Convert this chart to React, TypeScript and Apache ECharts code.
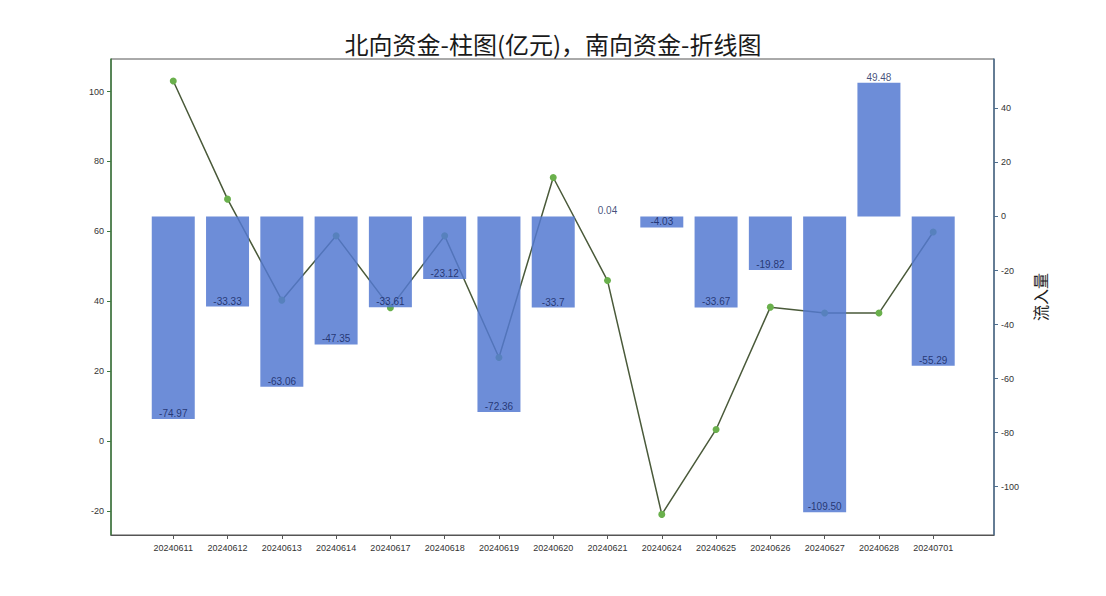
import { useEffect, useRef } from "react";
import * as echarts from "echarts";

const dates = [
  "20240611", "20240612", "20240613", "20240614", "20240617",
  "20240618", "20240619", "20240620", "20240621", "20240624",
  "20240625", "20240626", "20240627", "20240628", "20240701",
];

// 北向资金 (bars, right axis)
const northFlow = [
  -74.97, -33.33, -63.06, -47.35, -33.61, -23.12, -72.36, -33.7,
  0.04, -4.03, -33.67, -19.82, -109.5, 49.48, -55.29,
];
const northLabels = [
  "-74.97", "-33.33", "-63.06", "-47.35", "-33.61", "-23.12", "-72.36", "-33.7",
  "0.04", "-4.03", "-33.67", "-19.82", "-109.50", "49.48", "-55.29",
];

// 南向资金 (line, left axis)
const southFlow = [
  103.0, 69.2, 40.3, 58.7, 38.1, 58.7, 23.9, 75.4,
  45.9, -21.0, 3.3, 38.3, 36.6, 36.6, 59.8,
];

const leftTicks = [-20, 0, 20, 40, 60, 80, 100];
const rightTicks = [-100, -80, -60, -40, -20, 0, 20, 40];

export default function App() {
  const containerRef = useRef<HTMLDivElement>(null);

  useEffect(() => {
    document.body.style.margin = "0";
    if (!containerRef.current) return;
    const chart = echarts.init(containerRef.current, undefined, { renderer: "svg" });
    const idx = dates.map((_, i) => i);
    const font = "'Liberation Sans', 'DejaVu Sans', sans-serif";

    chart.setOption({
      animation: false,
      backgroundColor: "#ffffff",
      textStyle: { fontFamily: font },
      title: {
        text: "北向资金-柱图(亿元)，南向资金-折线图",
        left: "center",
        top: 26,
        textStyle: {
          fontFamily: "'Noto Sans CJK SC', sans-serif",
          fontSize: 24,
          fontWeight: "normal",
          color: "#1a1a1a",
        },
      },
      grid: {
        left: 111,
        right: 112,
        top: 59,
        bottom: 61,
        show: true,
        borderColor: "#555555",
        borderWidth: 1,
      },
      xAxis: {
        type: "value",
        min: -1.147,
        max: 15.12,
        splitLine: { show: false },
        axisLine: { show: true, onZero: false, lineStyle: { color: "#555555" } },
        axisTick: { show: true, length: 4, customValues: idx, lineStyle: { color: "#555555" } },
        axisLabel: {
          customValues: idx,
          formatter: (v: number) => dates[Math.round(v)] ?? "",
          fontSize: 9,
          color: "#333333",
          margin: 8,
        },
      },
      yAxis: [
        {
          type: "value",
          min: -26.9,
          max: 109.3,
          splitLine: { show: false },
          axisLine: { show: true, onZero: false, lineStyle: { color: "#3d7a3d", width: 1.5 } },
          axisTick: { show: true, length: 4, customValues: leftTicks, lineStyle: { color: "#3d7a3d" } },
          axisLabel: { customValues: leftTicks, fontSize: 9, color: "#333333", margin: 7 },
        },
        {
          type: "value",
          position: "right",
          min: -117.9,
          max: 58.3,
          name: "流入量",
          nameLocation: "middle",
          nameRotate: 90,
          nameGap: 38,
          nameTextStyle: {
            fontFamily: "'Noto Sans CJK SC', sans-serif",
            fontSize: 16,
            color: "#222222",
          },
          splitLine: { show: false },
          axisLine: { show: true, onZero: false, lineStyle: { color: "#4e6e8e", width: 1.5 } },
          axisTick: { show: true, length: 4, customValues: rightTicks, lineStyle: { color: "#4e6e8e" } },
          axisLabel: { customValues: rightTicks, fontSize: 9, color: "#333333", margin: 7 },
        },
      ],
      series: [
        {
          type: "line",
          yAxisIndex: 0,
          data: southFlow.map((v, i) => [i, v]),
          symbol: "circle",
          symbolSize: 7,
          lineStyle: { color: "#4a5a3a", width: 1.5 },
          itemStyle: { color: "#6ab04c" },
          z: 2,
        },
        {
          type: "bar",
          yAxisIndex: 1,
          data: northFlow.map((v, i) => [i, v]),
          barWidth: 43,
          itemStyle: { color: "#5379d1", opacity: 0.85 },
          z: 3,
        },
        {
          type: "scatter",
          yAxisIndex: 1,
          data: northFlow.map((v, i) => [i, v]),
          symbolSize: 1,
          itemStyle: { color: "rgba(0,0,0,0)" },
          label: {
            show: true,
            position: "top",
            distance: 0,
            formatter: (p: any) => northLabels[p.dataIndex],
            fontSize: 10,
            color: "#121f5a",
          },
          z: 4,
        },
      ],
    });

    return () => chart.dispose();
  }, []);

  return <div ref={containerRef} style={{ width: 1106, height: 596 }} />;
}
